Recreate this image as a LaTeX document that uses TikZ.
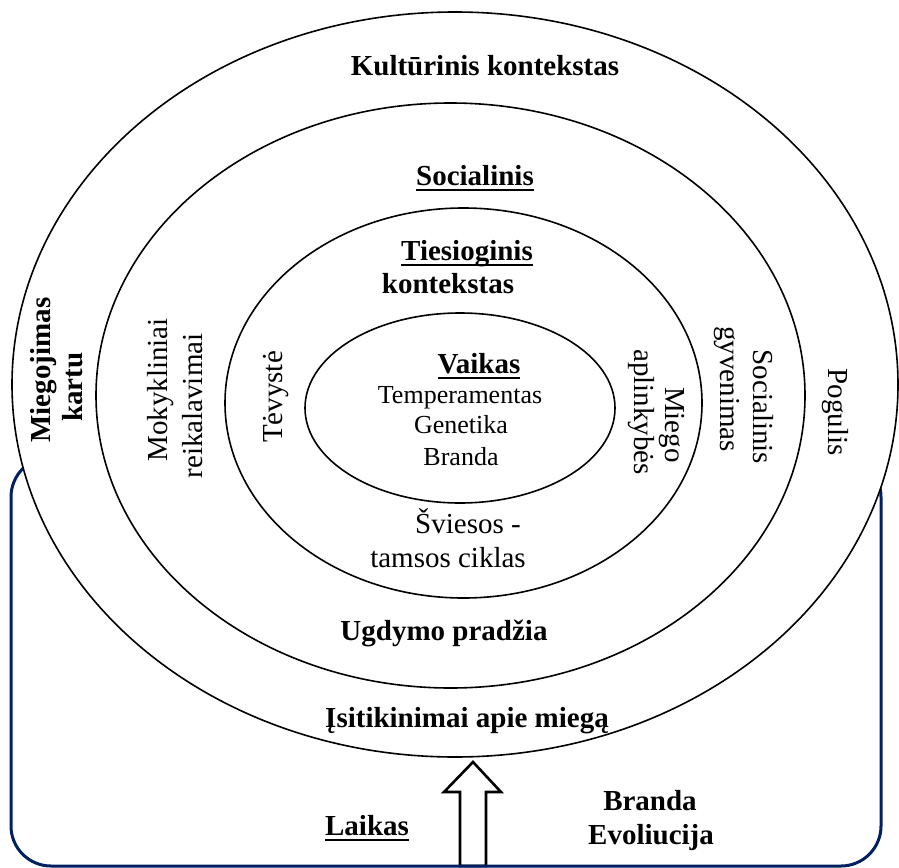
\documentclass[tikz,border=0pt]{standalone}
\usepackage{fontspec}
\setmainfont{Liberation Serif}
\usetikzlibrary{shapes.geometric}
\definecolor{navy}{RGB}{0,32,96}
% underlined word with a fixed-thickness rule
\newcommand{\undl}[1]{\setbox0\hbox{#1}\rlap{\rule[-6pt]{\wd0}{2pt}}\box0}
\tikzset{
  ring/.style={draw, ellipse, line width=1.6pt, inner sep=0pt, outer sep=0pt, fill=white},
  frame/.style={draw=navy, line width=3pt, rounded corners=40pt},
  blockarrow/.style={draw, fill=white, line width=2.6pt, line join=miter},
  lbl/.style={font=\fontsize{29}{33}\selectfont\bfseries, anchor=base, inner sep=0pt},
  reg/.style={font=\fontsize{29}{33}\selectfont, anchor=base, inner sep=0pt},
  small/.style={font=\fontsize{26}{30}\selectfont, anchor=base, inner sep=0pt},
}
\begin{document}
\begin{tikzpicture}[x=1pt, y=-1pt]
\useasboundingbox (0,0) rectangle (899,867);

% upward time arrow
\coordinate (tip) at (473,762);
\draw[blockarrow] (tip) -- ++(28,30) -- ++(-15,0) -- ++(0,74) -- ++(-26,0)
  -- ++(0,-74) -- ++(-16,0) -- cycle;

% frame behind the rings
\draw[frame] (11,457) rectangle (881,866);

% nested contexts
\node[ring, minimum width=886pt, minimum height=745pt] (cult) at (455,384.5) {};
\node[ring, minimum width=709pt, minimum height=585pt] (social) at (450.5,395.5) {};
\node[ring, minimum width=477pt, minimum height=390pt] (direct) at (463.5,403) {};
\node[ring, minimum width=310pt, minimum height=190pt] (child) at (460,408) {};

% horizontal labels
\node[lbl] (kult) at (485,75) {Kultūrinis kontekstas};
\node[lbl] (soc) at (475,185) {\undl{Socialinis}};
\node[lbl] (ties1) at (467,260) {\undl{Tiesioginis}};
\node[lbl] (ties2) at (448,293) {kontekstas};
\node[lbl] (vaik) at (479,373) {\undl{Vaikas}};
\node[small] (temp) at (460,403) {Temperamentas};
\node[small] (gen) at (461,433) {Genetika};
\node[small] (bran) at (461,465) {Branda};
\node[reg] (svie1) at (468,533) {Šviesos -};
\node[reg] (svie2) at (448,567) {tamsos ciklas};
\node[lbl] (ugd) at (444,640) {Ugdymo pradžia};
\node[lbl] (isit) at (467,727) {Įsitikinimai apie miegą};
\node[lbl] (laik) at (367,835) {\undl{Laikas}};
\node[lbl] (bran2) at (650,810) {Branda};
\node[lbl] (evol) at (651,844) {Evoliucija};

% vertical labels, left side
\node[lbl, rotate=90] (mieg1) at (50,370) {Miegojimas};
\node[lbl, rotate=90] (mieg2) at (82,387) {kartu};
\node[reg, rotate=90] (mok1) at (167,390) {Mokykliniai};
\node[reg, rotate=90] (mok2) at (202,406) {reikalavimai};
\node[reg, rotate=90] (tev) at (282,397) {Tėvystė};

% vertical labels, right side
\node[reg, rotate=-90] (apl1) at (665,425) {Miego};
\node[reg, rotate=-90] (apl2) at (634,412) {aplinkybės};
\node[reg, rotate=-90] (sg1) at (753,407) {Socialinis};
\node[reg, rotate=-90] (sg2) at (720,389) {gyvenimas};
\node[reg, rotate=-90] (pog) at (828,412) {Pogulis};
\end{tikzpicture}
\end{document}
